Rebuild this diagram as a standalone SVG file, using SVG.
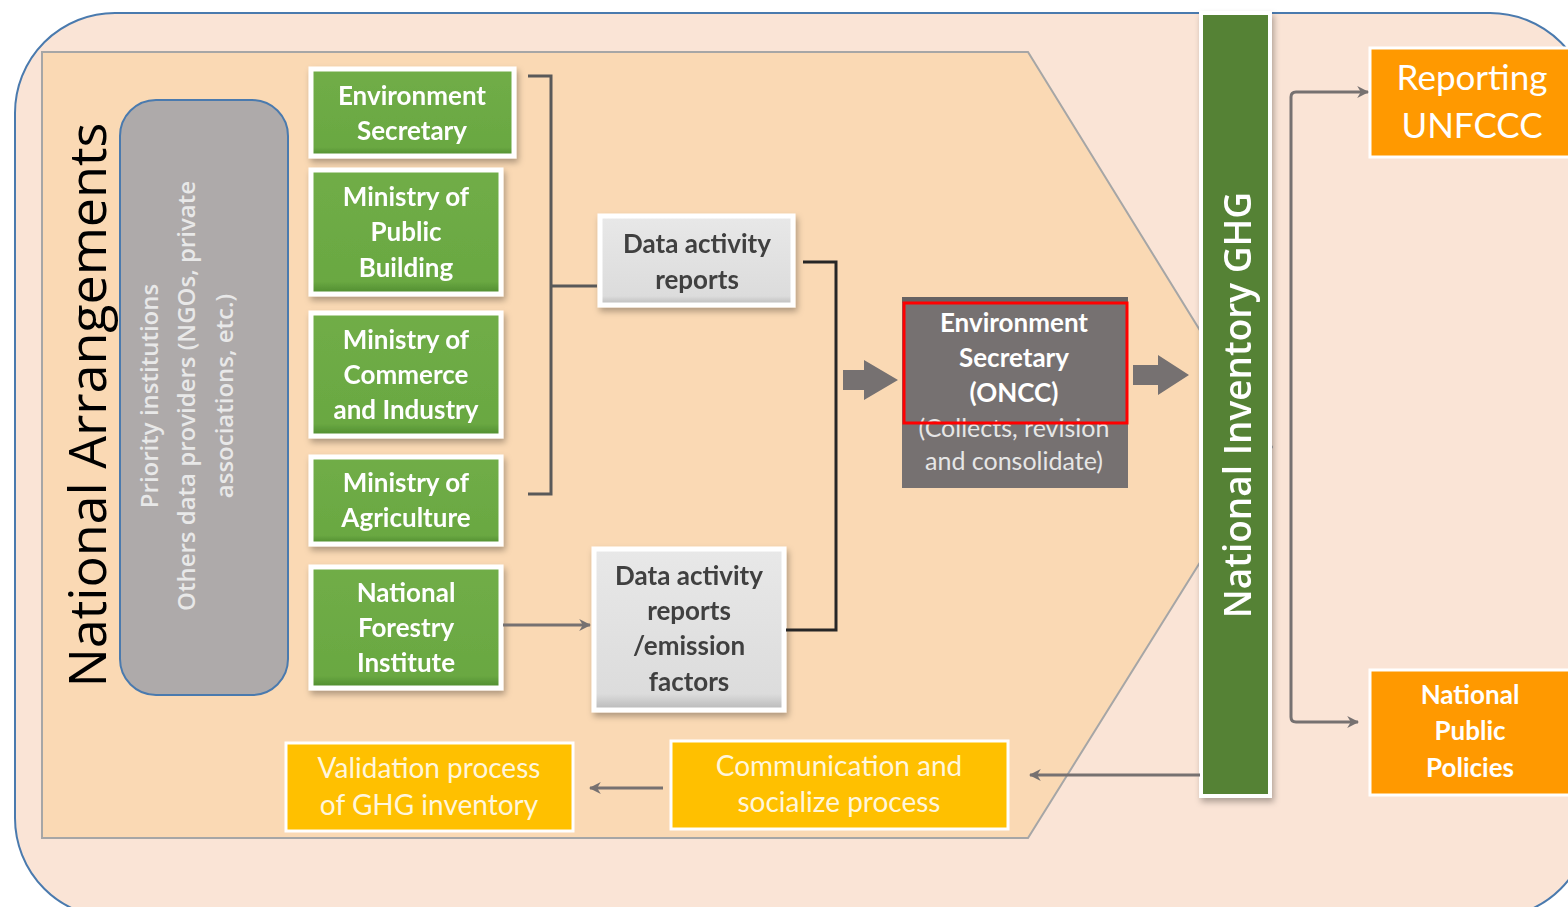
<svg xmlns="http://www.w3.org/2000/svg" width="1568" height="907" viewBox="0 0 1568 907">
<defs>
<style>
.cal{font-family:Lato,"Open Sans","Liberation Sans",sans-serif;text-anchor:middle}
.b{font-weight:bold}
.wt{fill:#FFFFFF}
.dk{fill:#404040}
.ybox{fill:#FFC000;stroke:#FFFFFF;stroke-width:3}
.obox{fill:#FF9900;stroke:#FFFFFF;stroke-width:3}
.conn{fill:none;stroke:#767171;stroke-width:3}
.blk{fill:none;stroke:#262626;stroke-width:3}
</style>
<filter id="sh" x="-10%" y="-10%" width="130%" height="130%">
<feDropShadow dx="2" dy="4" stdDeviation="3" flood-color="#000" flood-opacity="0.3"/>
</filter>
<linearGradient id="gg" x1="0" y1="0" x2="0" y2="1">
<stop offset="0" stop-color="#70AD47"/><stop offset="0.9" stop-color="#6AA842"/><stop offset="1" stop-color="#4E8A2E"/>
</linearGradient>
<linearGradient id="dg" x1="0" y1="0" x2="0" y2="1">
<stop offset="0" stop-color="#E8E8E8"/><stop offset="0.9" stop-color="#DCDCDC"/><stop offset="1" stop-color="#B8B8B8"/>
</linearGradient>
<marker id="ah" viewBox="0 0 10 10" refX="9" refY="5" markerWidth="4" markerHeight="4" orient="auto">
<path d="M0,0 L10,5 L0,10 L3,5 z" fill="#767171"/>
</marker>
</defs>

<g id="background">
<rect x="15" y="13" width="1575" height="905" rx="100" fill="#FAE4D6" stroke="#4A7AAE" stroke-width="2"/>
<path d="M42,52 L1028,52 L1272,447 L1028,838 L42,838 Z" fill="#FAD9B4" stroke="#A6A6A6" stroke-width="2"/>
</g>

<g id="title">
<text transform="translate(106,405) rotate(-90)" style="font-family:'Open Sans','Liberation Sans',sans-serif;font-size:52px;fill:#000;text-anchor:middle">National Arrangements</text>
</g>

<g id="providers">
<rect x="120" y="100" width="168" height="595" rx="36" fill="#AEAAAA" stroke="#4A7AAE" stroke-width="2"/>
<g transform="translate(204,396) rotate(-90)" style="font-family:'Open Sans','Liberation Sans',sans-serif;font-size:24px;font-weight:600;fill:#E8E8E8;text-anchor:middle">
<text x="0" y="-46">Priority institutions</text>
<text x="0" y="-9">Others data providers (NGOs, private</text>
<text x="0" y="29">associations, etc.)</text>
</g>
</g>

<g id="env-secretary" filter="url(#sh)">
<rect x="311" y="69" width="203" height="87" fill="url(#gg)" stroke="#fff" stroke-width="5"/>
<text class="cal b wt" font-size="26" x="412" y="105">Environment</text>
<text class="cal b wt" font-size="26" x="412" y="140">Secretary</text>
</g>
<g id="min-public-building" filter="url(#sh)">
<rect x="311" y="170" width="190" height="124" fill="url(#gg)" stroke="#fff" stroke-width="5"/>
<text class="cal b wt" font-size="26" x="406" y="206">Ministry of</text>
<text class="cal b wt" font-size="26" x="406" y="241">Public</text>
<text class="cal b wt" font-size="26" x="406" y="277">Building</text>
</g>
<g id="min-commerce" filter="url(#sh)">
<rect x="311" y="313" width="190" height="123" fill="url(#gg)" stroke="#fff" stroke-width="5"/>
<text class="cal b wt" font-size="26" x="406" y="349">Ministry of</text>
<text class="cal b wt" font-size="26" x="406" y="384">Commerce</text>
<text class="cal b wt" font-size="26" x="406" y="419">and Industry</text>
</g>
<g id="min-agriculture" filter="url(#sh)">
<rect x="311" y="457" width="190" height="87" fill="url(#gg)" stroke="#fff" stroke-width="5"/>
<text class="cal b wt" font-size="26" x="406" y="492">Ministry of</text>
<text class="cal b wt" font-size="26" x="406" y="527">Agriculture</text>
</g>
<g id="forestry" filter="url(#sh)">
<rect x="311" y="567" width="190" height="121" fill="url(#gg)" stroke="#fff" stroke-width="5"/>
<text class="cal b wt" font-size="26" x="406" y="602">National</text>
<text class="cal b wt" font-size="26" x="406" y="637">Forestry</text>
<text class="cal b wt" font-size="26" x="406" y="672">Institute</text>
</g>

<g id="data-reports-1" filter="url(#sh)">
<rect x="600" y="216" width="193" height="89" fill="url(#dg)" stroke="#fff" stroke-width="5"/>
<text class="cal b dk" font-size="26" x="697" y="253">Data activity</text>
<text class="cal b dk" font-size="26" x="697" y="289">reports</text>
</g>
<g id="data-reports-2" filter="url(#sh)">
<rect x="594" y="549" width="190" height="161" fill="url(#dg)" stroke="#fff" stroke-width="5"/>
<text class="cal b dk" font-size="26" x="689" y="585">Data activity</text>
<text class="cal b dk" font-size="26" x="689" y="620">reports</text>
<text class="cal b dk" font-size="26" x="689" y="655">/emission</text>
<text class="cal b dk" font-size="26" x="689" y="691">factors</text>
</g>

<g id="oncc">
<rect x="902" y="297" width="226" height="191" fill="#767171"/>
<rect x="902" y="297" width="226" height="6" fill="#666262"/>
<text class="cal b wt" font-size="26" x="1014" y="332">Environment</text>
<text class="cal b wt" font-size="26" x="1014" y="367">Secretary</text>
<text class="cal b wt" font-size="26" x="1014" y="402">(ONCC)</text>
<text class="cal" font-size="25" fill="#E6E6E6" x="1014" y="437">(Collects, revision</text>
<text class="cal" font-size="25" fill="#E6E6E6" x="1014" y="470">and  consolidate)</text>
<rect x="904" y="303" width="223" height="120" fill="none" stroke="#FF0000" stroke-width="3"/>
</g>

<g id="inventory" filter="url(#sh)">
<rect x="1201" y="13" width="69" height="783" fill="#548235" stroke="#fff" stroke-width="4"/>
<text transform="translate(1251,405) rotate(-90)" style="font-family:'Open Sans','Liberation Sans',sans-serif;font-size:37px;font-weight:600;fill:#fff;text-anchor:middle">National Inventory  GHG</text>
</g>

<g id="reporting-unfccc">
<rect x="1370" y="48" width="210" height="109" class="obox"/>
<text class="cal wt" font-size="35" x="1472" y="90">Reporting</text>
<text class="cal wt" font-size="35" x="1472" y="138">UNFCCC</text>
</g>
<g id="public-policies">
<rect x="1370" y="670" width="210" height="125" class="obox"/>
<text class="cal b wt" font-size="26" x="1470" y="704">National</text>
<text class="cal b wt" font-size="26" x="1470" y="740">Public</text>
<text class="cal b wt" font-size="26" x="1470" y="777">Policies</text>
</g>

<g id="validation">
<rect x="286" y="743" width="287" height="88" class="ybox"/>
<text class="cal" font-size="28" fill="#FFF6DC" x="429" y="778">Validation  process</text>
<text class="cal" font-size="28" fill="#FFF6DC" x="429" y="815">of GHG inventory</text>
</g>
<g id="communication">
<rect x="671" y="741" width="337" height="88" class="ybox"/>
<text class="cal" font-size="28" fill="#FFF6DC" x="839" y="776">Communication  and</text>
<text class="cal" font-size="28" fill="#FFF6DC" x="839" y="812">socialize  process</text>
</g>

<g id="connectors">
<path d="M528,76 L551,76 L551,494 L528,494" fill="none" stroke="#595959" stroke-width="3"/>
<path d="M551,286 L597,286" fill="none" stroke="#595959" stroke-width="3"/>
<path d="M503,625 L590,625" class="conn" stroke-width="2" marker-end="url(#ah)"/>
<path d="M803,262 L836,262 L836,630 L786,630" class="blk"/>
<path d="M843,370 L864,370 L864,360 L898,380 L864,400 L864,390 L843,390 Z" fill="#767171"/>
<path d="M1133,365 L1158,365 L1158,355 L1189,375 L1158,395 L1158,385 L1133,385 Z" fill="#767171"/>
<path d="M1291,400 L1291,97 Q1291,92 1296,92 L1368,92" class="conn" stroke="#7F7F7F" marker-end="url(#ah)"/>
<path d="M1291,400 L1291,717 Q1291,722 1296,722 L1358,722" class="conn" stroke="#7F7F7F" marker-end="url(#ah)"/>
<path d="M1200,775 L1030,775" class="conn" marker-end="url(#ah)"/>
<path d="M663,788 L590,788" class="conn" marker-end="url(#ah)"/>
</g>
</svg>
